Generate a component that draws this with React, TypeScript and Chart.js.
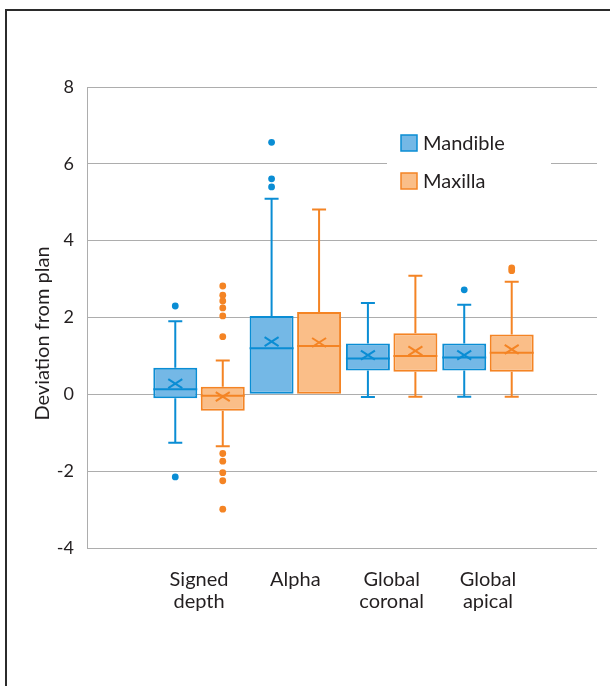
import React, { useEffect, useRef } from "react";
import { Chart, registerables } from "chart.js";

Chart.register(...registerables);

// ---------- data ----------
const categories: string[][] = [["Signed", "depth"], ["Alpha"], ["Global", "coronal"], ["Global", "apical"]];
const seriesNames = ["Mandible", "Maxilla"];
const yAxisTitle = "Deviation from plan";
const yTicks = [-4, -2, 0, 2, 4, 6, 8];

const mandibleMin = [-1.26, 0, -0.07, -0.06];
const mandibleQ1 = [-0.1, 0, 0.62, 0.62];
const mandibleMedian = [0.13, 1.2, 0.93, 0.96];
const mandibleQ3 = [0.69, 2.04, 1.32, 1.32];
const mandibleMax = [1.9, 5.09, 2.38, 2.33];
const mandibleMean = [0.28, 1.37, 1.02, 1.02];
const mandibleOutliers: number[][] = [[2.3, -2.15], [6.56, 5.61, 5.4], [], [2.72]];

const maxillaMin = [-1.35, 0, -0.06, -0.06];
const maxillaQ1 = [-0.43, 0, 0.59, 0.59];
const maxillaMedian = [-0.04, 1.26, 1.0, 1.08];
const maxillaQ3 = [0.2, 2.14, 1.59, 1.56];
const maxillaMax = [0.88, 4.81, 3.09, 2.93];
const maxillaMean = [-0.06, 1.35, 1.13, 1.17];
const maxillaOutliers: number[][] = [
  [2.82, 2.58, 2.43, 2.25, 2.04, 1.5, -1.54, -1.74, -2.04, -2.25, -2.99],
  [],
  [],
  [3.29, 3.22],
];

// ---------- style ----------
const FONT = "Lato, 'Open Sans', sans-serif";
const TEXT = "#231f20";
const GRID = "#adadad";
const BLUE_FILL = "rgb(116,184,230)";
const BLUE_LINE = "rgb(10,141,212)";
const ORANGE_FILL = "rgb(250,190,136)";
const ORANGE_LINE = "rgb(244,132,36)";

const boxExtras = {
  id: "boxExtras",
  afterDatasetsDraw(chart: any) {
    const ctx = chart.ctx;
    const ys = chart.scales.y;
    chart.data.datasets.forEach((ds: any, di: number) => {
      const meta = chart.getDatasetMeta(di);
      const st = ds.stats;
      meta.data.forEach((el: any, i: number) => {
        const cx = el.x;
        const w = el.width;
        const py = (v: number) => ys.getPixelForValue(v);
        ctx.save();
        ctx.strokeStyle = ds.borderColor;
        ctx.fillStyle = ds.borderColor;
        ctx.lineWidth = 2;
        ctx.lineCap = "butt";
        const cap = 7;
        if (st.max[i] > st.q3[i]) {
          ctx.beginPath();
          ctx.moveTo(cx, py(st.q3[i]));
          ctx.lineTo(cx, py(st.max[i]));
          ctx.moveTo(cx - cap, py(st.max[i]));
          ctx.lineTo(cx + cap, py(st.max[i]));
          ctx.stroke();
        }
        if (st.min[i] < st.q1[i]) {
          ctx.beginPath();
          ctx.moveTo(cx, py(st.q1[i]));
          ctx.lineTo(cx, py(st.min[i]));
          ctx.moveTo(cx - cap, py(st.min[i]));
          ctx.lineTo(cx + cap, py(st.min[i]));
          ctx.stroke();
        }
        ctx.beginPath();
        ctx.moveTo(cx - w / 2, py(st.median[i]));
        ctx.lineTo(cx + w / 2, py(st.median[i]));
        ctx.stroke();
        const my = py(st.mean[i]);
        ctx.beginPath();
        ctx.moveTo(cx - 7, my - 4.5);
        ctx.lineTo(cx + 7, my + 4.5);
        ctx.moveTo(cx + 7, my - 4.5);
        ctx.lineTo(cx - 7, my + 4.5);
        ctx.stroke();
        st.outliers[i].forEach((v: number) => {
          ctx.beginPath();
          ctx.arc(cx, py(v), 3.4, 0, Math.PI * 2);
          ctx.fill();
        });
        ctx.restore();
      });
    });
  },
};

const customLegend = {
  id: "customLegend",
  afterDraw(chart: any) {
    const ctx = chart.ctx;
    const a = chart.chartArea;
    const left = a.left + 300;
    const top = a.top + 33;
    ctx.save();
    ctx.fillStyle = "#ffffff";
    ctx.fillRect(left, top, 164, 80);
    chart.data.datasets.forEach((ds: any, i: number) => {
      const cy = top + 23 + i * 38;
      const bx = left + 14;
      ctx.fillStyle = ds.backgroundColor;
      ctx.fillRect(bx, cy - 8, 16, 16);
      ctx.strokeStyle = ds.borderColor;
      ctx.lineWidth = 1.5;
      ctx.strokeRect(bx, cy - 8, 16, 16);
      ctx.fillStyle = TEXT;
      ctx.font = `20px ${FONT}`;
      ctx.textBaseline = "middle";
      ctx.textAlign = "left";
      ctx.fillText(ds.label, bx + 22, cy + 1);
    });
    ctx.restore();
  },
};

const yTitlePlugin = {
  id: "yTitle",
  afterDraw(chart: any) {
    const ctx = chart.ctx;
    const a = chart.chartArea;
    ctx.save();
    ctx.translate(43, (a.top + a.bottom) / 2 + 16);
    ctx.rotate(-Math.PI / 2);
    ctx.fillStyle = TEXT;
    ctx.font = `20px ${FONT}`;
    ctx.textAlign = "center";
    ctx.textBaseline = "middle";
    ctx.fillText(yAxisTitle, 0, 0);
    ctx.restore();
  },
};

function makeStats(min: number[], q1: number[], median: number[], q3: number[], max: number[], mean: number[], outliers: number[][]) {
  return { min, q1, median, q3, max, mean, outliers };
}

export default function App() {
  const ref = useRef<HTMLCanvasElement | null>(null);

  useEffect(() => {
    if (!ref.current) return;
    const mk = (q1: number[], q3: number[]) => categories.map((_, i) => ({ x: i, y: [q1[i], q3[i]] }));
    const chart = new Chart(ref.current, {
      type: "bar",
      data: {
        datasets: [
          {
            label: seriesNames[0],
            data: mk(mandibleQ1, mandibleQ3),
            backgroundColor: BLUE_FILL,
            borderColor: BLUE_LINE,
            borderWidth: 2,
            borderSkipped: false,
            categoryPercentage: 0.986,
            barPercentage: 0.926,
            stats: makeStats(mandibleMin, mandibleQ1, mandibleMedian, mandibleQ3, mandibleMax, mandibleMean, mandibleOutliers),
          } as any,
          {
            label: seriesNames[1],
            data: mk(maxillaQ1, maxillaQ3),
            backgroundColor: ORANGE_FILL,
            borderColor: ORANGE_LINE,
            borderWidth: 2,
            borderSkipped: false,
            categoryPercentage: 0.986,
            barPercentage: 0.926,
            stats: makeStats(maxillaMin, maxillaQ1, maxillaMedian, maxillaQ3, maxillaMax, maxillaMean, maxillaOutliers),
          } as any,
        ],
      },
      options: {
        responsive: false,
        animation: false,
        events: [],
        layout: { padding: { left: 0, top: 87, right: 13, bottom: 0 } },
        plugins: { legend: { display: false }, tooltip: { enabled: false }, title: { display: false } },
        scales: {
          x: {
            type: "linear",
            offset: false,
            min: -1.163,
            max: 4.132,
            afterBuildTicks: (axis: any) => {
              axis.ticks = categories.map((_, i) => ({ value: i }));
            },
            afterFit: (s: any) => {
              s.height = 138;
            },
            grid: { display: false, offset: false },
            border: { display: false },
            ticks: {
              autoSkip: false,
              maxRotation: 0,
              padding: 13,
              color: TEXT,
              font: { family: FONT, size: 20, lineHeight: 1.1 },
              callback: (_v: any, i: number) => categories[i],
            },
          },
          y: {
            min: -4,
            max: 8,
            afterBuildTicks: (axis: any) => {
              axis.ticks = yTicks.map((v) => ({ value: v }));
            },
            afterFit: (s: any) => {
              s.width = 87;
            },
            grid: { color: GRID, lineWidth: 1, drawTicks: false },
            border: { display: true, color: GRID, width: 1 },
            ticks: {
              padding: 13,
              color: TEXT,
              font: { family: FONT, size: 18 },
            },
          },
        },
      } as any,
      plugins: [boxExtras, customLegend, yTitlePlugin],
    });
    return () => chart.destroy();
  }, []);

  return (
    <div style={{ position: "fixed", left: 0, top: 0, width: 610, height: 686, background: "#fff" }}>
      <canvas ref={ref} width={610} height={686} style={{ position: "absolute", left: 0, top: 0 }} />
      <div
        style={{
          position: "absolute",
          left: 5,
          top: 9,
          width: 700,
          height: 800,
          border: "2px solid #2b2b2b",
          boxSizing: "border-box",
          pointerEvents: "none",
        }}
      />
    </div>
  );
}
